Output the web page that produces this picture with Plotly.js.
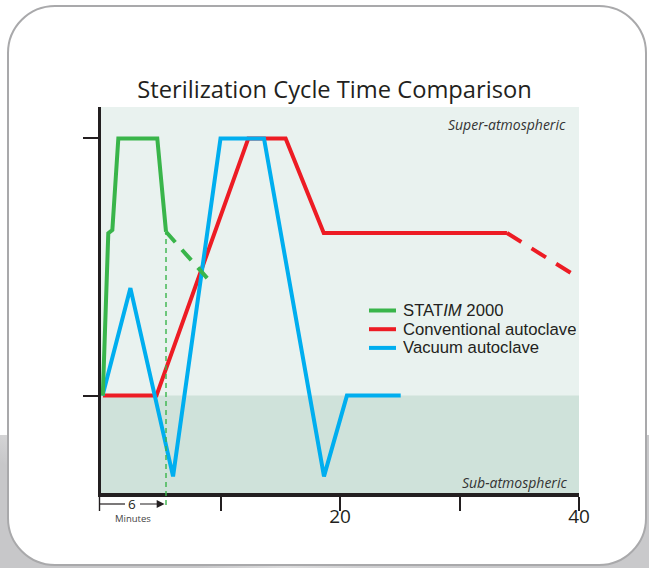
<!DOCTYPE html>
<html><head><meta charset="utf-8">
<script src="https://cdn.plot.ly/plotly-3.0.1.min.js"></script>
<style>
html,body{margin:0;padding:0;background:#fff;}
#wrap{position:relative;width:649px;height:568px;overflow:hidden;}
#back{position:absolute;left:0;top:435px;width:649px;height:133px;
  background:linear-gradient(28deg,#c7c7c9 0%,#c7c7c9 22%,#dcdcdd 32%,#d0d0d2 40%,#c9c9cb 55%,#c9c9cb 100%);}
#frame{position:absolute;left:7px;top:5px;width:640px;height:561px;box-sizing:border-box;
  border:2.5px solid #a9a9ab;border-radius:48px;background:#fff;}
#chart{position:absolute;left:0;top:0;width:649px;height:568px;}
</style></head>
<body><div id="wrap"><div id="back"></div><div id="frame"></div><div id="chart"></div></div>
<script>
// ---- data (minutes vs. relative chamber pressure; 0 = atmospheric, 1 = sterilizing pressure)
const seriesNames = ['STAT<i>IM</i> 2000', 'Conventional autoclave', 'Vacuum autoclave'];
const seriesColors = ['#39b54a', '#ed1c24', '#00aeef'];

const statimMinutes = [0.15, 0.61, 0.95, 1.45, 4.71, 5.44];
const statimPressure = [0, 0.631, 0.644, 1, 1, 0.637];
const statimTailMinutes = [5.44, 9.26];
const statimTailPressure = [0.637, 0.437];

const convMinutes = [0.17, 4.64, 12.33, 15.45, 18.64, 33.97];
const convPressure = [0, 0, 1, 1, 0.632, 0.632];
const convTailMinutes = [33.97, 39.66];
const convTailPressure = [0.632, 0.467];

const vacMinutes = [0.13, 2.46, 6.03, 10.0, 13.64, 18.66, 20.58, 25.08];
const vacPressure = [0, 0.418, -0.314, 1, 1, -0.314, 0, 0];

const xTickVals = [10, 20, 30, 40];
const xTickText = ['', '20', '', '40'];
const yTickVals = [0, 1];
const statimCycleEnd = 5.44; // minutes (the "6 minutes" marker)

// ---- layout helpers
const W = 649, H = 568, ML = 101, MR = 70, MT = 107, MB = 75;
const PW = W - ML - MR, PH = H - MT - MB;
const PX = x => (x - ML) / PW;
const PY = y => (H - MB - y) / PH;
const yMin = -0.3787, yMax = 1.1221;
const yPaper = v => (v - yMin) / (yMax - yMin);

const font = '"Open Sans", "DejaVu Sans", sans-serif';
const legFont = '"Liberation Sans", Arial, sans-serif';
const ink = '#231f20';

function line(x, y, i, dash) {
  return {x: x, y: y, type: 'scatter', mode: 'lines', name: seriesNames[i], showlegend: false,
    hoverinfo: 'skip', line: {color: seriesColors[i], width: 4, dash: dash || 'solid'}};
}
const traces = [
  line(convMinutes, convPressure, 1),
  line(convTailMinutes, convTailPressure, 1, '17px,12px'),
  line(vacMinutes, vacPressure, 2),
  line(statimMinutes, statimPressure, 0),
  line(statimTailMinutes, statimTailPressure, 0, '14px,10px')
];

const legendY = [310.5, 329.2, 347.9];
const shapes = [
  {type: 'rect', xref: 'paper', yref: 'y', x0: 0, x1: 1, y0: yMin, y1: 0, fillcolor: '#cfe2da',
   line: {width: 0}, layer: 'below'},
  {type: 'line', xref: 'x', yref: 'paper', x0: statimCycleEnd, x1: statimCycleEnd,
   y0: PY(505), y1: yPaper(statimPressure[statimPressure.length - 1]),
   line: {color: seriesColors[0], width: 1.4, dash: '5px,4px'}},
  {type: 'line', xref: 'paper', yref: 'paper', x0: PX(99.5), x1: PX(99.5), y0: PY(496), y1: PY(511),
   line: {color: ink, width: 1.4}},
  {type: 'line', xref: 'paper', yref: 'paper', x0: PX(99.5), x1: PX(125), y0: PY(504), y1: PY(504),
   line: {color: ink, width: 1.2}}
];
const annotations = [
  {xref: 'paper', yref: 'paper', x: PX(568), y: PY(124.5), xanchor: 'right', yanchor: 'middle',
   text: '<i>Super-atmospheric</i>', showarrow: false, font: {family: font, size: 14, color: '#333'}},
  {xref: 'paper', yref: 'paper', x: PX(569), y: PY(482.5), xanchor: 'right', yanchor: 'middle',
   text: '<i>Sub-atmospheric</i>', showarrow: false, font: {family: font, size: 14, color: '#333'}},
  {xref: 'paper', yref: 'paper', x: PX(131.7), y: PY(503.5), xanchor: 'center', yanchor: 'middle',
   text: '6', showarrow: false, borderpad: 0, height: 12, font: {family: font, size: 13.5, color: ink}},
  {xref: 'paper', yref: 'paper', x: PX(133), y: PY(517.5), xanchor: 'center', yanchor: 'middle',
   text: 'Minutes', showarrow: false, borderpad: 0, height: 10, font: {family: font, size: 9.5, color: '#444'}},
  {xref: 'paper', yref: 'paper', x: PX(164.5), y: PY(504), text: '', showarrow: true,
   ax: -26, ay: 0, arrowhead: 2, arrowsize: 1.3, arrowwidth: 1.2, arrowcolor: ink, standoff: 0}
];
for (let i = 0; i < 3; i++) {
  shapes.push({type: 'line', xref: 'paper', yref: 'paper', x0: PX(369), x1: PX(396),
    y0: PY(legendY[i]), y1: PY(legendY[i]), line: {color: seriesColors[i], width: 4}});
  annotations.push({xref: 'paper', yref: 'paper', x: PX(402), y: PY(legendY[i]), xanchor: 'left',
    yanchor: 'middle', text: seriesNames[i], showarrow: false, borderpad: 0, height: 17,
    font: {family: legFont, size: 16.7, color: ink}});
}

const layout = {
  width: W, height: H,
  margin: {l: ML, r: MR, t: MT, b: MB},
  paper_bgcolor: 'rgba(0,0,0,0)',
  plot_bgcolor: '#e9f2ef',
  showlegend: false,
  title: {text: 'Sterilization Cycle Time Comparison', xref: 'paper', x: PX(334.5),
    yref: 'container', y: 1 - 90 / H, xanchor: 'center', yanchor: 'middle',
    font: {family: font, size: 23.7, color: ink}},
  xaxis: {range: [0, 40], showgrid: false, zeroline: false, showline: true, linewidth: 3.5,
    linecolor: ink, ticks: 'outside', ticklen: 14, tickwidth: 2, tickcolor: ink,
    ticklabelstandoff: -10,
    tickvals: xTickVals, ticktext: xTickText, tickfont: {family: font, size: 19, color: ink}},
  yaxis: {range: [yMin, yMax], showgrid: false, zeroline: false, showline: true, linewidth: 3,
    linecolor: ink, ticks: 'outside', ticklen: 15, tickwidth: 2, tickcolor: ink,
    tickvals: yTickVals, showticklabels: false},
  shapes: shapes,
  annotations: annotations
};
Plotly.newPlot('chart', traces, layout, {displayModeBar: false, staticPlot: true});
</script></body></html>
